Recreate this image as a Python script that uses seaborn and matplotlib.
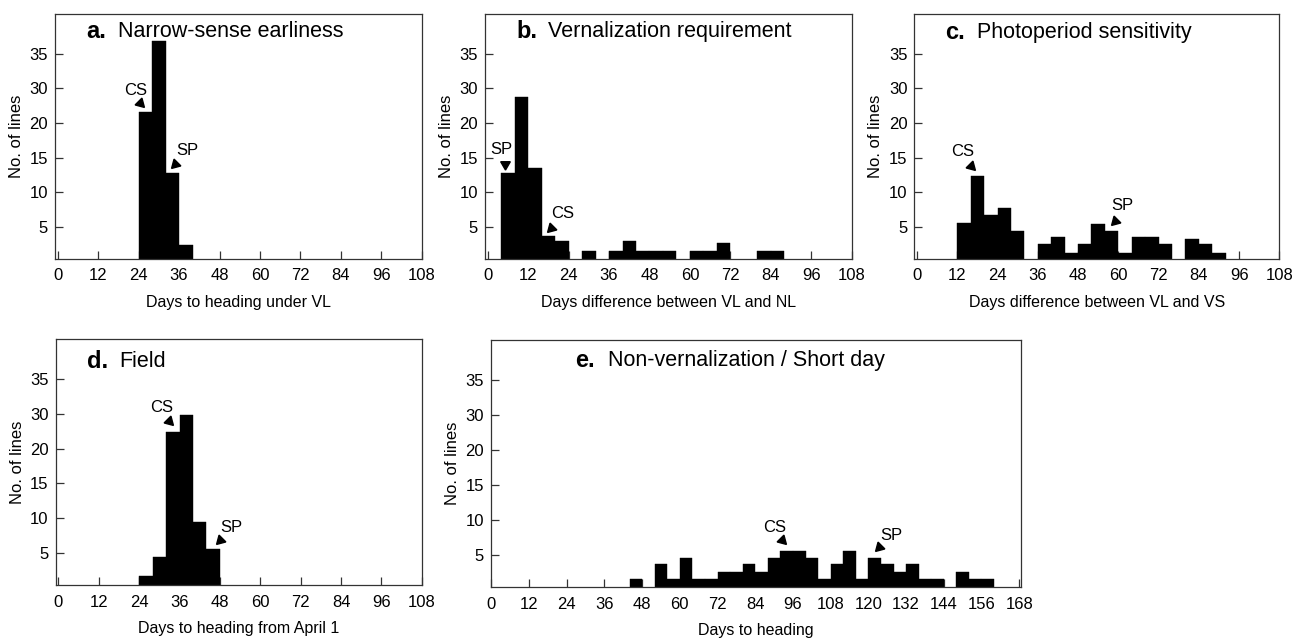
import matplotlib
matplotlib.use("Agg")
import matplotlib.pyplot as plt
import seaborn as sns

# bin starts (days) and bar heights, bins are 4 days wide
bin_width = 4

a_bins = [24, 28, 32, 36]
a_counts = [21.5, 31.8, 12.7, 2.4]

b_bins = [4, 8, 12, 16, 20, 28, 36, 40, 44, 48, 52, 60, 64, 68, 80, 84]
b_counts = [12.7, 23.75, 13.5, 3.65, 2.9, 1.5, 1.5, 2.9, 1.5, 1.5, 1.5, 1.5, 1.5, 2.7, 1.5, 1.5]

c_bins = [12, 16, 20, 24, 28, 36, 40, 44, 48, 52, 56, 60, 64, 68, 72, 80, 84, 88]
c_counts = [5.6, 12.3, 6.7, 7.7, 4.4, 2.5, 3.5, 1.2, 2.5, 5.4, 4.4, 1.2, 3.5, 3.5, 2.5, 3.3, 2.5, 1.2]

d_bins = [24, 28, 32, 36, 40, 44]
d_counts = [1.7, 4.4, 22.4, 24.9, 9.4, 5.5]

e_bins = [44, 52, 56, 60, 64, 68, 72, 76, 80, 84, 88, 92, 96, 100, 104, 108, 112,
          116, 120, 124, 128, 132, 136, 140, 148, 152, 156]
e_counts = [1.6, 3.7, 1.6, 4.5, 1.6, 1.6, 2.5, 2.5, 3.7, 2.5, 4.5, 5.6, 5.6, 4.5, 1.6, 3.7, 5.6,
            1.6, 4.5, 3.7, 2.5, 3.7, 1.6, 1.6, 2.5, 1.6, 1.6]

# y ticks as printed in the original (the "25" label is missing there)
ytick_pos = [5, 10, 15, 20, 25, 30]
ytick_labels = ["5", "10", "15", "20", "30", "35"]

sns.set_style("white")
plt.rcParams["font.family"] = ["Liberation Sans", "DejaVu Sans"]
plt.rcParams["text.color"] = "black"
plt.rcParams["axes.labelcolor"] = "black"

fig = plt.figure(figsize=(12.92, 6.38), dpi=100)


def panel(rect, bins, counts, letter, title, xlabel, xmax, title_y, marks):
    ax = fig.add_axes(rect)
    edges = list(range(0, xmax + 1, bin_width))
    centers = [b + bin_width / 2 for b in bins]
    sns.histplot(x=centers, weights=counts, bins=edges, color="black", alpha=1,
                 edgecolor="black", linewidth=0.3, ax=ax)
    wide = xmax > 150
    ax.set_xlim((-0.2, xmax + 0.6) if wide else (-0.8, xmax - 0.4))
    ax.set_ylim(0.4, 35.7)
    ax.set_xticks(range(0, xmax + 1, 12))
    ax.set_yticks(ytick_pos)
    ax.set_yticklabels(ytick_labels)
    ax.tick_params(direction="in", length=6, width=0.9, labelsize=12, colors="#333333",
                   labelcolor="black", bottom=True, left=True, top=False, right=False, pad=5)
    ax.tick_params(axis="x", pad=7)
    for s in ax.spines.values():
        s.set_linewidth(0.9)
        s.set_color("#333333")
    ax.set_xlabel(xlabel, fontsize=11.5, labelpad=8)
    ax.set_ylabel("No. of lines", fontsize=12, labelpad=4)
    tx = 0.16 if wide else 0.085
    ax.text(tx, title_y, letter, transform=ax.transAxes,
            fontsize=17, fontweight="bold", va="center")
    ax.annotate(title, xy=(tx, title_y), xycoords="axes fraction",
                xytext=(23, 0), textcoords="offset points", fontsize=15.5, va="center")
    for label, lx, ly, mx, my, ang in marks:
        ax.text(lx, ly, label, ha="center", va="center", fontsize=12)
        ax.plot(mx, my, marker=(3, 0, ang), color="black", markersize=8, linestyle="none")
    return ax


panel([0.0426, 0.5945, 0.2838, 0.3835], a_bins, a_counts, "a.", "Narrow-sense earliness",
      "Days to heading under VL", 108, 0.928,
      [("CS", 23.2, 24.7, 24.3, 22.8, -135), ("SP", 38.5, 16.0, 34.8, 14.1, 135)])
panel([0.3754, 0.5945, 0.2838, 0.3835], b_bins, b_counts, "b.", "Vernalization requirement",
      "Days difference between VL and NL", 108, 0.928,
      [("SP", 3.9, 16.2, 5.2, 14.1, 180), ("CS", 22.2, 6.9, 18.7, 4.9, 135)])
panel([0.7077, 0.5945, 0.2825, 0.3835], c_bins, c_counts, "c.", "Photoperiod sensitivity",
      "Days difference between VL and VS", 108, 0.925,
      [("CS", 13.6, 15.8, 16.0, 13.8, -135), ("SP", 61.1, 8.1, 58.9, 5.9, 135)])
panel([0.0431, 0.0831, 0.2834, 0.385], d_bins, d_counts, "d.", "Field",
      "Days to heading from April 1", 108, 0.909,
      [("CS", 30.6, 25.9, 32.8, 24.0, -135), ("SP", 51.3, 8.7, 47.9, 6.9, 135)])
panel([0.3798, 0.080, 0.4105, 0.387], e_bins, e_counts, "e.", "Non-vernalization / Short day",
      "Days to heading", 168, 0.917,
      [("CS", 90.1, 8.9, 92.5, 7.1, -135), ("SP", 127.2, 7.8, 123.3, 6.1, 135)])

fig.savefig("out.png", dpi=100)
